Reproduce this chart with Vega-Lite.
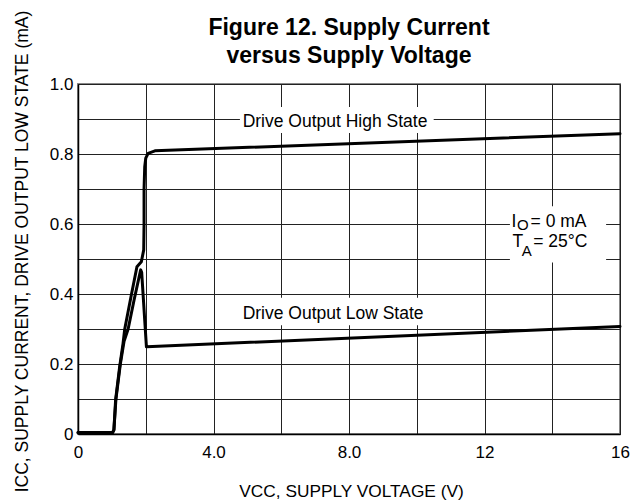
{
  "$schema": "https://vega.github.io/schema/vega-lite/v6.json",
  "width": 542,
  "height": 350,
  "autosize": {"type": "none"},
  "padding": {"left": 78, "top": 84, "right": 22, "bottom": 70},
  "background": "white",
  "title": {
    "text": ["Figure 12. Supply Current", "versus Supply Voltage"],
    "font": "Liberation Sans",
    "fontWeight": "bold",
    "fontSize": 23,
    "lineHeight": 27.6,
    "anchor": "middle",
    "frame": "group",
    "baseline": "alphabetic",
    "offset": -76,
    "color": "black"
  },
  "datasets": {
    "curves": [
      {"series": "high", "seq": 1, "v": 0, "i": 0.004},
      {"series": "high", "seq": 2, "v": 1.02, "i": 0.004},
      {"series": "high", "seq": 3, "v": 1.06, "i": 0.012},
      {"series": "high", "seq": 4, "v": 1.11, "i": 0.097},
      {"series": "high", "seq": 5, "v": 1.23, "i": 0.192},
      {"series": "high", "seq": 6, "v": 1.33, "i": 0.259},
      {"series": "high", "seq": 7, "v": 1.38, "i": 0.3},
      {"series": "high", "seq": 8, "v": 1.56, "i": 0.39},
      {"series": "high", "seq": 9, "v": 1.74, "i": 0.478},
      {"series": "high", "seq": 10, "v": 1.87, "i": 0.492},
      {"series": "high", "seq": 11, "v": 1.94, "i": 0.526},
      {"series": "high", "seq": 12, "v": 1.95, "i": 0.6},
      {"series": "high", "seq": 13, "v": 1.95, "i": 0.7},
      {"series": "high", "seq": 14, "v": 1.97, "i": 0.764},
      {"series": "high", "seq": 15, "v": 2.0, "i": 0.788},
      {"series": "high", "seq": 16, "v": 2.07, "i": 0.802},
      {"series": "high", "seq": 17, "v": 2.27, "i": 0.809},
      {"series": "high", "seq": 18, "v": 16, "i": 0.858},
      {"series": "low", "seq": 1, "v": 0, "i": 0.004},
      {"series": "low", "seq": 2, "v": 1.02, "i": 0.004},
      {"series": "low", "seq": 3, "v": 1.06, "i": 0.012},
      {"series": "low", "seq": 4, "v": 1.12, "i": 0.1},
      {"series": "low", "seq": 5, "v": 1.25, "i": 0.2},
      {"series": "low", "seq": 6, "v": 1.36, "i": 0.265},
      {"series": "low", "seq": 7, "v": 1.48, "i": 0.3},
      {"series": "low", "seq": 8, "v": 1.66, "i": 0.385},
      {"series": "low", "seq": 9, "v": 1.85, "i": 0.469},
      {"series": "low", "seq": 10, "v": 1.88, "i": 0.462},
      {"series": "low", "seq": 11, "v": 2.02, "i": 0.249},
      {"series": "low", "seq": 12, "v": 2.2, "i": 0.25},
      {"series": "low", "seq": 13, "v": 16, "i": 0.307}
    ],
    "boxes": [
      {"v": 4.78, "v2": 10.5, "i": 0.86, "i2": 0.934},
      {"v": 4.72, "v2": 10.33, "i": 0.311, "i2": 0.389},
      {"v": 12.75, "v2": 15.59, "i": 0.49, "i2": 0.651}
    ],
    "labels": [
      {"kind": "main", "v": 4.86, "i": 0.876, "t": "Drive Output High State"},
      {"kind": "main", "v": 4.86, "i": 0.328, "t": "Drive Output Low State"},
      {"kind": "main", "v": 12.8, "i": 0.592, "t": "I"},
      {"kind": "main", "v": 13.36, "i": 0.592, "t": "= 0 mA"},
      {"kind": "main", "v": 12.83, "i": 0.535, "t": "T"},
      {"kind": "main", "v": 13.44, "i": 0.535, "t": "= 25°C"},
      {"kind": "sub", "v": 12.96, "i": 0.582, "t": "O"},
      {"kind": "sub", "v": 13.1, "i": 0.51, "t": "A"}
    ]
  },
  "encoding": {
    "x": {
      "field": "v",
      "type": "quantitative",
      "scale": {"domain": [0, 16], "nice": false, "zero": false},
      "axis": {
        "values": [0, 2, 4, 6, 8, 10, 12, 14, 16],
        "labelExpr": "datum.value % 4 == 0 ? (datum.value == 0 ? '0' : (datum.value < 10 ? format(datum.value, '.1f') : format(datum.value, 'd'))) : ''",
        "labelOverlap": false,
        "labelFlush": false,
        "grid": true,
        "gridColor": "#222",
        "gridWidth": 1,
        "ticks": false,
        "tickSize": 0,
        "labelPadding": 10,
        "labelFont": "Liberation Sans",
        "labelFontSize": 17,
        "labelColor": "black",
        "domainColor": "black",
        "domainWidth": 1.5,
        "title": "VCC, SUPPLY VOLTAGE (V)",
        "titleFont": "Liberation Sans",
        "titleFontSize": 17.3,
        "titleFontWeight": "normal",
        "titleColor": "black",
        "titleX": 273,
        "titleY": 62,
        "titleAlign": "center",
        "titleBaseline": "alphabetic"
      }
    },
    "y": {
      "field": "i",
      "type": "quantitative",
      "scale": {"domain": [0, 1], "nice": false},
      "axis": {
        "values": [0, 0.1, 0.2, 0.3, 0.4, 0.5, 0.6, 0.7, 0.8, 0.9, 1.0],
        "labelExpr": "round(datum.value * 10) % 2 == 0 ? (datum.value == 0 ? '0' : format(datum.value, '.1f')) : ''",
        "labelOverlap": false,
        "labelFlush": false,
        "grid": true,
        "gridColor": "#222",
        "gridWidth": 1,
        "ticks": false,
        "tickSize": 0,
        "labelPadding": 5,
        "labelFont": "Liberation Sans",
        "labelFontSize": 17,
        "labelColor": "black",
        "domainColor": "black",
        "domainWidth": 1.5,
        "title": "ICC, SUPPLY CURRENT, DRIVE OUTPUT LOW STATE (mA)",
        "titleFont": "Liberation Sans",
        "titleFontSize": 17.5,
        "titleFontWeight": "normal",
        "titleColor": "black",
        "titleAngle": -90,
        "titleX": -56,
        "titleY": 167,
        "titleAlign": "center",
        "titleBaseline": "middle"
      }
    }
  },
  "layer": [
    {
      "data": {"name": "boxes"},
      "mark": {"type": "rect", "fill": "white", "stroke": null},
      "encoding": {
        "x2": {"field": "v2"},
        "y2": {"field": "i2"}
      }
    },
    {
      "data": {"name": "curves"},
      "mark": {"type": "line", "color": "black", "strokeWidth": 3, "strokeJoin": "round", "strokeCap": "round"},
      "encoding": {
        "detail": {"field": "series", "type": "nominal"},
        "order": {"field": "seq", "type": "quantitative"}
      }
    },
    {
      "data": {"name": "labels"},
      "transform": [{"filter": "datum.kind == 'main'"}],
      "mark": {"type": "text", "align": "left", "baseline": "alphabetic", "font": "Liberation Sans", "fontSize": 17.5, "color": "black"},
      "encoding": {"text": {"field": "t", "type": "nominal"}}
    },
    {
      "data": {"name": "labels"},
      "transform": [{"filter": "datum.kind == 'sub'"}],
      "mark": {"type": "text", "align": "left", "baseline": "alphabetic", "font": "Liberation Sans", "fontSize": 15, "color": "black"},
      "encoding": {"text": {"field": "t", "type": "nominal"}}
    }
  ],
  "config": {
    "view": {"stroke": "#888", "strokeWidth": 2}
  }
}
